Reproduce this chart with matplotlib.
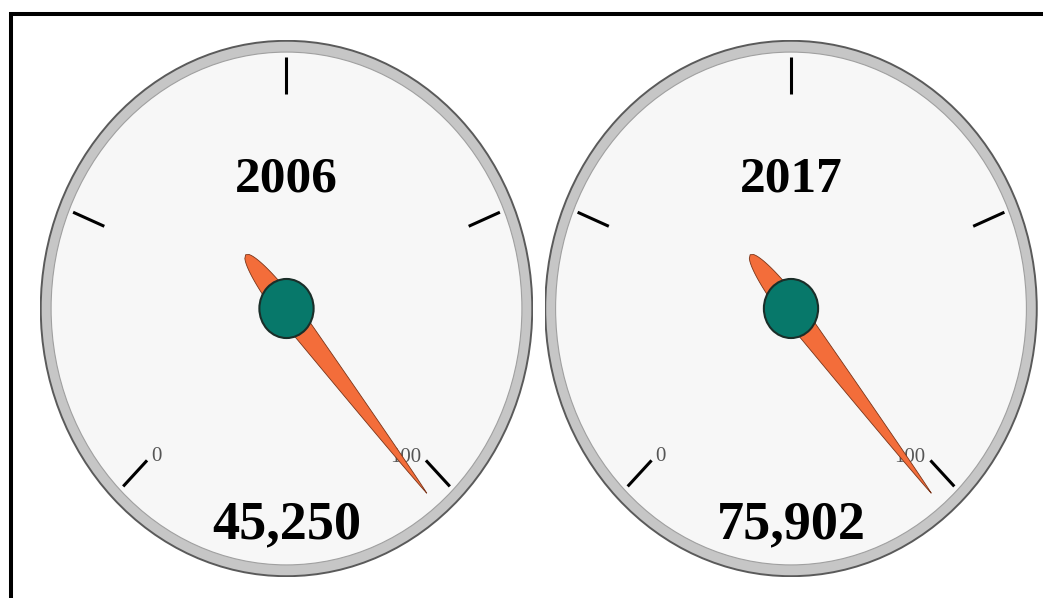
import numpy as np
import matplotlib
matplotlib.use('Agg')
import matplotlib.pyplot as plt
from matplotlib.patches import Ellipse, Circle, Polygon
from matplotlib.lines import Line2D

years = ['2006', '2017']
totals = [45250, 75902]
needle_values = [102, 102]
tick_values = [0, 25, 50, 75, 100]
tick_labels = {0: '0', 100: '100'}

START_ANGLE = 225.0  # angle of value 0 (deg)
SWEEP = 270.0        # clockwise sweep for 0..100


def val2ang(v):
    return np.deg2rad(START_ANGLE - SWEEP * v / 100.0)


def draw_gauge(ax, year, total, value):
    ax.set_xlim(-1, 1)
    ax.set_ylim(-1, 1)
    ax.axis('off')
    # bezel
    ax.add_patch(Ellipse((0, 0), 1.994, 1.994, facecolor='#c6c6c6',
                         edgecolor='#5a5a5a', lw=1.4))
    ax.add_patch(Ellipse((0, 0), 1.91, 1.91, facecolor='#f7f7f7',
                         edgecolor='#a0a0a0', lw=0.8))
    # ticks
    for v in tick_values:
        a = val2ang(v)
        ax.plot([0.80 * np.cos(a), 0.937 * np.cos(a)],
                [0.80 * np.sin(a), 0.937 * np.sin(a)],
                color='black', lw=2.2, solid_capstyle='butt')
    for v, s in tick_labels.items():
        a = val2ang(v)
        if v == 0:
            a += np.deg2rad(1.3)
            r = 0.765
        else:
            a += np.deg2rad(-4.0)
            r = 0.735
        ax.text(r * np.cos(a), r * np.sin(a), s, ha='center', va='center',
                fontsize=15, family='Liberation Serif', color='#555555')
    # needle
    a = val2ang(value)
    tail, tip, w = 0.26, 0.893, 0.045
    ut = np.linspace(-tail, 0, 30)
    wt = w * np.sqrt(np.clip(1 - (ut / tail) ** 2, 0, 1))
    uh = np.linspace(0, tip, 60)
    wh = w * (1 - uh / tip) ** 0.85
    u = np.concatenate([ut, uh[1:]])
    wv = np.concatenate([wt, wh[1:]])
    d = np.array([np.cos(a), np.sin(a)])
    n = np.array([-np.sin(a), np.cos(a)])
    side1 = u[:, None] * d + wv[:, None] * n
    side2 = u[:, None] * d - wv[:, None] * n
    pts = np.vstack([side1, side2[::-1]])
    ax.add_patch(Polygon(pts, closed=True, facecolor='#f36d3a',
                         edgecolor='#7a3418', lw=0.6, zorder=3))
    # hub
    ax.add_patch(Circle((0, 0), 0.11, facecolor='#07786a',
                        edgecolor='#1a2e29', lw=1.5, zorder=4))
    ax.text(0, 0.479, year, ha='center', va='center', fontsize=37,
            fontweight='bold', family='Liberation Serif', color='black')
    ax.text(0, -0.806, f'{total:,}', ha='center', va='center', fontsize=39,
            fontweight='bold', family='Liberation Serif', color='black')


fig = plt.figure(figsize=(10.43, 5.98), dpi=100)
fig.patch.set_facecolor('white')

W, H = 1043.0, 598.0
lefts = [40.0, 544.5]
for i in range(len(years)):
    ax = fig.add_axes([lefts[i] / W, 1 - 577 / H, 493 / W, 537 / H])
    draw_gauge(ax, years[i], totals[i], needle_values[i])

# frame (only top and left edges visible)
fig.add_artist(Line2D([9 / W, 1], [1 - 14 / H, 1 - 14 / H], color='black',
                      lw=2.9, solid_capstyle='butt'))
fig.add_artist(Line2D([11 / W, 11 / W], [0, 1 - 12 / H], color='black',
                      lw=2.9, solid_capstyle='butt'))

fig.savefig('out.png', dpi=100)
